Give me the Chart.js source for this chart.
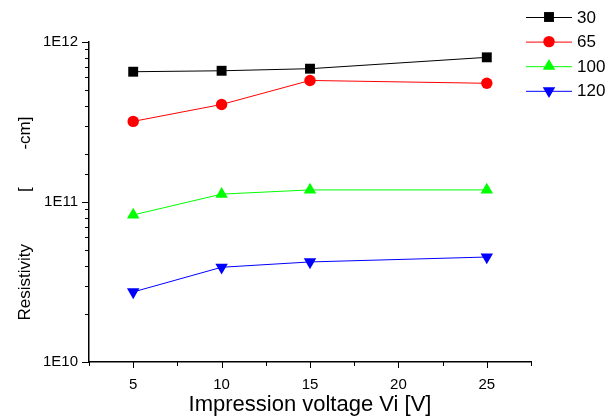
<!DOCTYPE html>
<html><head><meta charset="utf-8">
<script src="https://cdn.jsdelivr.net/npm/chart.js@4/dist/chart.umd.min.js"></script>
<style>html,body{margin:0;padding:0;background:#fff;}#wrap{width:614px;height:416px;}</style>
</head><body><div id="wrap"><canvas id="c" width="614" height="416"></canvas></div>
<script>
const voltages = [5, 10, 15, 25];
const seriesNames = ['30', '65', '100', '120'];
const s30 = [6.52e11, 6.61e11, 6.81e11, 8.02e11];
const s65 = [3.19e11, 4.07e11, 5.75e11, 5.52e11];
const s100 = [8.3e10, 1.12e11, 1.19e11, 1.19e11];
const s120 = [2.74e10, 3.91e10, 4.22e10, 4.53e10];
const yTickLabels = ['1E10', '1E11', '1E12'];
const xTickLabels = ['5', '10', '15', '20', '25'];
const xTitle = 'Impression voltage Vi [V]';
const yTitle = 'Resistivity           [        -cm]       ';

const FONT = '"Liberation Sans", Arial, sans-serif';
const isPow10 = v => Math.abs(Math.log10(v) - Math.round(Math.log10(v))) < 1e-9;

function mk(label, vals, color, style, radius, rotation) {
  return {
    label, data: voltages.map((x, i) => ({x, y: vals[i]})),
    borderColor: color, backgroundColor: color, borderWidth: 1,
    pointStyle: style, pointRadius: radius, pointRotation: rotation || 0,
    pointBorderWidth: 0, pointBackgroundColor: color, pointBorderColor: color,
    pointHoverRadius: radius, tension: 0
  };
}

const tickPlugin = {
  id: 'tickMarks',
  afterDraw(chart) {
    const ctx = chart.ctx, ca = chart.chartArea;
    ctx.save();
    ctx.strokeStyle = '#000'; ctx.lineWidth = 1;
    const ys = chart.scales.y;
    ys.ticks.forEach((t, i) => {
      const p = Math.round(ys.getPixelForTick(i)) + 0.5;
      const len = isPow10(t.value) ? 7 : 4;
      ctx.beginPath(); ctx.moveTo(ca.left, p); ctx.lineTo(ca.left - len, p); ctx.stroke();
    });
    const xs = chart.scales.x;
    xs.ticks.forEach((t, i) => {
      const p = Math.round(xs.getPixelForTick(i)) + 0.5;
      const len = xTickLabels.includes(String(t.value)) ? 6 : 4;
      ctx.beginPath(); ctx.moveTo(p, ca.bottom); ctx.lineTo(p, ca.bottom + len); ctx.stroke();
    });
    ctx.restore();
  }
};

const legendPlugin = {
  id: 'lineLegend',
  afterDraw(chart) {
    const ctx = chart.ctx;
    ctx.save();
    chart.data.datasets.forEach((ds, i) => {
      const y = 17 + i * 24.6;
      ctx.strokeStyle = ds.borderColor; ctx.lineWidth = 1;
      ctx.beginPath(); ctx.moveTo(526, y + 0.5); ctx.lineTo(572, y + 0.5); ctx.stroke();
      ctx.fillStyle = ds.pointBackgroundColor; ctx.strokeStyle = ds.pointBorderColor;
      Chart.helpers.drawPoint(ctx, {pointStyle: ds.pointStyle, rotation: ds.pointRotation, radius: ds.pointRadius, borderWidth: 0}, 549, y);
      ctx.fillStyle = '#000';
      ctx.font = '17px ' + FONT;
      ctx.textBaseline = 'middle'; ctx.textAlign = 'left';
      ctx.fillText(ds.label, 577, y + 1);
    });
    ctx.restore();
  }
};

new Chart(document.getElementById('c'), {
  type: 'line',
  data: {
    datasets: [
      mk(seriesNames[0], s30, '#000000', 'rect', 7),
      mk(seriesNames[1], s65, '#ff0000', 'circle', 5.7),
      mk(seriesNames[2], s100, '#00ff00', 'triangle', 7.2),
      mk(seriesNames[3], s120, '#0000ff', 'triangle', 7.2, 180)
    ]
  },
  options: {
    responsive: false, animation: false, devicePixelRatio: 1,
    layout: {padding: {left: 0, right: 83, top: 42, bottom: 0}},
    plugins: {legend: {display: false}, tooltip: {enabled: false}},
    scales: {
      x: {
        type: 'linear', min: 2.5, max: 27.5,
        afterFit(s) { s.height = 54; },
        ticks: {stepSize: 2.5, autoSkip: false, maxRotation: 0, padding: 6, color: '#000',
          font: {family: FONT, size: 15},
          callback: v => xTickLabels.includes(String(v)) ? String(v) : ''},
        grid: {display: false},
        border: {display: true, color: '#000', width: 1.5},
        title: {display: true, text: xTitle, color: '#000', font: {family: FONT, size: 22, lineHeight: 1}, padding: {top: 0, bottom: 0}}
      },
      y: {
        type: 'logarithmic', min: 1e10, max: 1e12,
        afterFit(s) { s.width = 89; },
        ticks: {autoSkip: false, padding: 3, color: '#000', font: {family: FONT, size: 15},
          callback: v => isPow10(v) ? yTickLabels[Math.round(Math.log10(v)) - 10] : ''},
        grid: {display: false},
        border: {display: true, color: '#000', width: 1.5},
        title: {display: true, text: yTitle, color: '#000', font: {family: FONT, size: 17, lineHeight: 1.2}, padding: {top: 15, bottom: 0}}
      }
    }
  },
  plugins: [tickPlugin, legendPlugin]
});
</script></body></html>
